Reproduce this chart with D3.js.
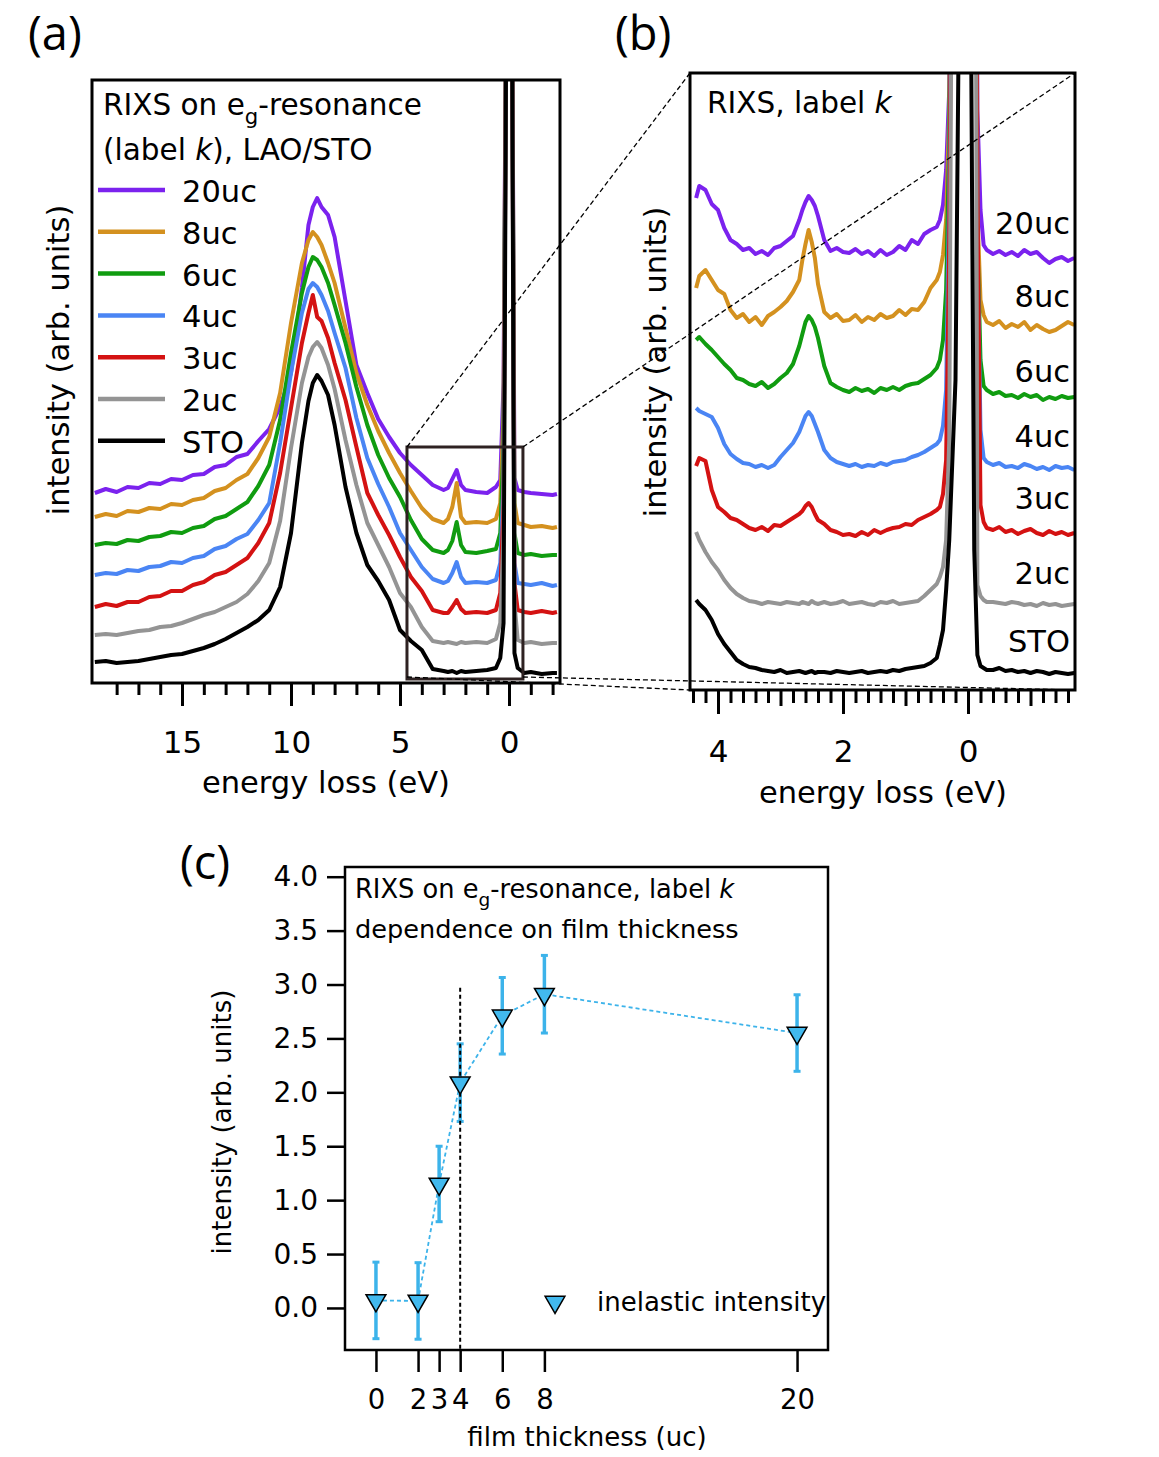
<!DOCTYPE html>
<html lang="en">
<head>
<meta charset="UTF-8">
<title>RIXS on eg-resonance, LAO/STO</title>
<script src="https://d3js.org/d3.v7.min.js"></script>
<style>
  body { margin: 0; background: #fff; }
  svg { display: block; font-family: 'DejaVu Sans', sans-serif; }
  .frame { fill: none; stroke: #000; }
  .panel-label { font-family: 'Open Sans', sans-serif; font-size: 47px; }
</style>
</head>
<body>
<svg id="fig" width="1159" height="1457"></svg>
<script>
// ---- panel (a): wide range spectra ----
const sampleNames = ['20uc', '8uc', '6uc', '4uc', '3uc', '2uc', 'STO'];
const sampleColors = ['#7b22ee', '#d4911f', '#109c10', '#4a85f4', '#d41212', '#949494', '#000000'];

const energyA = [19, 18.5, 18, 17.5, 17, 16.5, 16, 15.5, 15, 14.5, 14, 13.5, 13, 12.5, 12, 11.5, 11,
  10.5, 10, 9.5, 9.2, 9.0, 8.8, 8.6, 8.3, 8.0, 7.5, 7, 6.5, 6, 5.5, 5, 4.5, 4, 3.5, 3,
  2.8, 2.6, 2.4, 2.2, 2.0, 1.5, 1, 0.6, 0.4, 0.25, 0.1, 0, -0.1, -0.25, -0.4, -0.7, -1, -1.5, -2, -2.2];

const a20uc = [19.0, 19.4, 19.1, 19.6, 19.5, 20.0, 19.9, 20.4, 20.3, 20.8, 20.9, 21.6, 21.8, 22.6, 22.9, 24.2, 25.4,
  27.6, 31.0, 39.5, 45.8, 47.6, 48.5, 47.6, 46.8, 44.6, 38.2, 31.8, 29.0, 26.4, 24.6, 23.0, 21.8, 20.8, 19.8, 19.3,
  19.5, 20.4, 21.3, 19.8, 19.3, 19.1, 19.0, 19.6, 20.3, 30, 80, 150, 90, 20.5, 19.3, 19.1, 19.0, 18.9, 18.8, 18.9];
const a8uc = [16.6, 16.9, 16.7, 17.2, 17.1, 17.5, 17.4, 17.9, 17.8, 18.3, 18.5, 19.2, 19.5, 20.3, 20.9, 22.5, 24.6,
  29.0, 36.0, 42.0, 44.3, 45.1, 44.6, 43.8, 42.0, 40.0, 35.5, 31.0, 27.8, 25.2, 23.0, 21.0, 19.2, 17.5, 16.4, 16.0,
  16.4, 17.6, 20.0, 16.6, 16.0, 16.1, 16.0, 16.4, 18, 27, 80, 150, 90, 18, 16.0, 15.8, 15.6, 15.7, 15.5, 15.6];
const a6uc = [13.8, 14.0, 13.9, 14.3, 14.2, 14.6, 14.7, 15.1, 15.0, 15.5, 15.7, 16.4, 16.7, 17.4, 18.1, 19.7, 21.8,
  26.3, 33.0, 39.0, 41.6, 42.6, 42.3, 41.6, 40.0, 37.8, 34.0, 29.6, 25.8, 22.8, 20.5, 18.6, 16.3, 14.4, 13.3, 13.0,
  13.3, 14.2, 16.1, 13.8, 13.1, 13.0, 13.2, 13.4, 15, 24, 80, 150, 90, 15, 13.0, 12.8, 12.9, 12.7, 12.8, 12.8];
const a4uc = [10.8, 11.0, 10.9, 11.3, 11.2, 11.6, 11.7, 12.1, 12.0, 12.5, 12.7, 13.4, 13.7, 14.4, 14.9, 16.3, 18.0,
  24.0, 31.0, 37.0, 39.4, 40.0, 39.6, 38.8, 37.2, 35.0, 31.5, 26.5, 22.5, 19.9, 17.6, 15.0, 13.3, 11.6, 10.4, 10.0,
  10.2, 11.0, 12.1, 10.6, 10.0, 10.1, 10.0, 10.3, 12, 20, 80, 150, 90, 12, 10.0, 9.9, 9.8, 10.0, 9.7, 9.8];
const a3uc = [7.6, 7.9, 7.7, 8.1, 8.1, 8.6, 8.7, 9.2, 9.2, 9.8, 10.1, 10.8, 11.1, 11.8, 12.5, 14.0, 16.0,
  21.0, 27.5, 34.0, 37.0, 38.8, 36.6, 36.2, 34.5, 32.0, 28.3, 23.6, 19.0, 16.8, 14.8, 12.6, 10.6, 9.2, 7.3, 7.0,
  7.0, 7.6, 8.3, 7.4, 7.0, 7.1, 7.0, 7.3, 9, 18, 80, 150, 90, 10, 7.3, 7.1, 7.0, 7.2, 7.0, 7.1];
const a2uc = [4.8, 4.9, 4.8, 5.0, 5.2, 5.3, 5.6, 5.7, 6.0, 6.4, 6.8, 7.1, 7.6, 8.1, 8.9, 10.2, 12.0,
  16.2, 23.5, 30.0, 32.6, 33.6, 34.1, 33.5, 31.8, 29.4, 24.3, 19.8, 16.0, 13.8, 11.6, 9.0, 7.6, 5.6, 4.2, 4.0,
  4.1, 4.0, 3.9, 4.1, 4.0, 4.1, 4.0, 4.4, 6, 15, 80, 150, 90, 8, 4.3, 4.0, 4.1, 3.9, 4.0, 4.0];
const aSTO = [2.1, 2.2, 2.0, 2.1, 2.2, 2.4, 2.6, 2.8, 2.9, 3.2, 3.5, 3.9, 4.4, 5.0, 5.6, 6.3, 7.3,
  9.6, 15.0, 24.0, 28.2, 30.0, 30.8, 30.2, 28.8, 25.8, 19.6, 15.0, 11.8, 10.2, 8.3, 5.3, 4.2, 3.3, 1.4, 1.2,
  1.1, 1.2, 1.0, 1.2, 1.1, 1.2, 1.3, 1.5, 2.5, 6, 80, 150, 90, 3, 1.5, 1.0, 1.1, 0.9, 1.0, 1.0];

// ---- panel (b): zoom on the low energy region ----
const energyB = [4.35, 4.3, 4.2, 4.1, 4.0, 3.9, 3.8, 3.7, 3.6, 3.5, 3.4, 3.3, 3.2, 3.1, 3.0, 2.9, 2.8,
  2.7, 2.65, 2.6, 2.55, 2.5, 2.45, 2.4,
  2.3, 2.2, 2.1, 2.0, 1.9, 1.8, 1.7, 1.6, 1.5, 1.4, 1.3, 1.2, 1.1, 1.0, 0.9, 0.8, 0.7, 0.6, 0.5,
  0.45, 0.4, 0.35, 0.3, 0.25, 0.2, 0.15, 0.1, 0.05, 0, -0.05, -0.1, -0.15, -0.2, -0.25, -0.3,
  -0.4, -0.5, -0.6, -0.7, -0.8, -0.9, -1.0, -1.1, -1.2, -1.3, -1.4, -1.5, -1.6, -1.7];

const b20uc = [49.2, 50.4, 50.0, 48.6, 48.0, 46.2, 45.0, 44.6, 44.0, 44.2, 43.6, 43.9, 43.5, 44.2, 44.4, 44.9, 45.4,
  47.0, 48.0, 48.8, 49.4, 49.0, 48.4, 47.4,
  45.0, 43.9, 44.2, 43.8, 43.7, 44.1, 43.6, 43.9, 43.4, 44.0, 43.5, 43.8, 44.4, 44.0, 45.0, 44.6, 45.6, 46.0, 46.3,
  47.0, 48.5, 52, 60, 90, 200, 400, 600, 700, 600, 400, 150, 58, 48, 44.5, 44.0,
  43.6, 43.9, 43.5, 43.8, 43.4, 44.0, 43.6, 43.8, 43.2, 42.7, 43.1, 43.3, 42.9, 43.2];
const b8uc = [40.2, 41.4, 42.0, 41.0, 40.0, 39.6, 38.0, 37.2, 37.6, 36.8, 37.3, 36.5, 37.4, 37.8, 38.3, 38.9, 39.8,
  41.0, 43.0, 44.6, 46.0, 44.8, 43.2, 40.6,
  37.8, 37.2, 37.6, 36.9, 37.0, 37.5, 36.8, 37.3, 37.0, 37.6, 37.2, 37.4, 38.0, 37.5, 38.1, 38.0, 38.8, 40.2, 41.0,
  41.8, 43.5, 47, 58, 90, 200, 400, 600, 700, 600, 400, 150, 48, 39, 37.5, 36.8,
  36.5, 36.9, 36.2, 36.6, 36.3, 36.8, 36.0, 36.5, 36.1, 35.8, 36.0, 36.4, 36.8, 36.5];
const b6uc = [35.0, 35.3, 34.6, 34.0, 33.3, 32.6, 32.0, 31.2, 31.0, 30.6, 30.4, 30.8, 30.2, 30.6, 31.2, 31.7, 32.6,
  34.4, 35.6, 36.8, 37.4, 37.0, 36.3, 35.2,
  32.4, 30.7, 30.3, 30.0, 29.8, 30.2, 29.9, 30.1, 29.7, 30.2, 30.0, 30.3, 30.0, 30.4, 30.6, 30.7, 31.1, 31.5, 32.2,
  33.0, 35.0, 40, 55, 90, 200, 400, 600, 700, 600, 400, 150, 45, 33, 30.4, 30.0,
  29.6, 29.8, 29.4, 29.5, 29.2, 29.6, 29.3, 29.5, 29.0, 29.3, 29.1, 29.4, 29.2, 29.3];
const b4uc = [28.2, 27.9, 27.6, 27.3, 26.2, 24.6, 23.6, 23.1, 22.7, 22.6, 22.3, 22.5, 22.2, 22.5, 23.3, 24.0, 24.7,
  25.8, 26.6, 27.4, 27.8, 27.4, 26.6, 25.8,
  24.0, 23.2, 22.8, 22.6, 22.4, 22.6, 22.3, 22.5, 22.4, 22.7, 22.5, 22.8, 22.9, 23.0, 23.3, 23.5, 23.8, 24.2, 24.6,
  25.0, 26.4, 30, 50, 90, 200, 400, 600, 700, 600, 400, 150, 45, 26, 23.2, 22.8,
  22.5, 22.7, 22.3, 22.4, 22.2, 22.6, 22.4, 22.1, 22.3, 22.0, 22.4, 22.2, 22.3, 22.0];
const b3uc = [22.4, 23.2, 22.9, 20.0, 18.3, 17.8, 17.2, 17.0, 16.6, 16.2, 16.0, 16.3, 15.9, 16.5, 16.4, 16.8, 17.2,
  17.6, 17.9, 18.4, 18.7, 18.3, 17.6, 17.0,
  16.6, 16.0, 15.8, 15.5, 15.6, 15.4, 15.8, 15.5, 16.0, 15.7, 16.0, 16.2, 16.3, 16.6, 16.5, 17.0, 17.3, 17.6, 18.0,
  18.3, 19.6, 23, 45, 90, 200, 400, 600, 700, 600, 400, 150, 50, 18.5, 16.8, 16.2,
  16.0, 16.3, 15.8, 16.0, 15.6, 15.9, 16.1, 15.7, 15.5, 15.9, 15.6, 15.8, 15.5, 15.7];
const b2uc = [15.8, 15.0, 13.8, 12.8, 12.0, 11.0, 10.2, 9.6, 9.2, 8.9, 8.8, 8.6, 8.8, 8.7, 8.6, 8.8, 8.7,
  8.6, 8.8, 8.7, 8.6, 8.9, 8.7, 8.6,
  8.8, 8.6, 8.7, 8.9, 8.6, 8.7, 8.8, 8.6, 8.5, 8.8, 8.7, 8.9, 8.6, 8.7, 8.8, 8.9, 9.4, 10.0, 10.6,
  11.3, 12.3, 15.0, 25, 90, 200, 400, 600, 700, 600, 400, 150, 10.5, 9.4, 9.0, 8.8,
  8.8, 8.7, 8.6, 8.8, 8.7, 8.5, 8.6, 8.4, 8.7, 8.5, 8.6, 8.4, 8.5, 8.6];
const bSTO = [9.0, 8.6, 8.0, 7.0, 5.6, 4.6, 3.8, 3.0, 2.6, 2.3, 2.2, 2.0, 1.9, 1.8, 2.0, 1.7, 1.8,
  1.9, 1.8, 1.7, 1.8, 1.9, 1.7, 1.8,
  1.8, 1.7, 1.9, 1.8, 1.7, 1.8, 1.9, 1.7, 1.8, 1.9, 1.8, 2.0, 1.9, 2.1, 2.2, 2.3, 2.4, 2.7, 3.2,
  4.5, 6.0, 10, 15, 23, 31, 65, 300, 500, 300, 65, 14, 3.5, 2.4, 2.2, 2.0,
  2.0, 2.2, 1.9, 2.0, 1.8, 1.9, 1.7, 1.9, 1.8, 1.6, 1.8, 1.7, 1.6, 1.7];

// region of (a) that is blown up in (b)
const zoomBoxE = [4.68, -0.64];
const zoomBoxI = [0.4, 23.6];

// ---- panel (c): inelastic intensity vs thickness ----
const thickness = [0, 2, 3, 4, 6, 8, 20];
const inelastic = [0.07, 0.065, 1.15, 2.09, 2.71, 2.91, 2.55];
const inelasticErr = [0.355, 0.355, 0.35, 0.36, 0.355, 0.36, 0.355];
const thicknessTicks = [0, 2, 3, 4, 6, 8, 20];
const intensityTicks = [0, 0.5, 1.0, 1.5, 2.0, 2.5, 3.0, 3.5, 4.0];
const criticalThickness = 4;
const criticalTop = 2.97;

const seriesA = [a20uc, a8uc, a6uc, a4uc, a3uc, a2uc, aSTO];
const seriesB = [b20uc, b8uc, b6uc, b4uc, b3uc, b2uc, bSTO];
seriesA.forEach((s, i) => { if (s.length !== energyA.length) console.warn('A', sampleNames[i], s.length); });
seriesB.forEach((s, i) => { if (s.length !== energyB.length) console.warn('B', sampleNames[i], s.length); });

const svg = d3.select('#fig');
const defs = svg.append('defs');

// writes "RIXS on e_g-resonance..." style text with subscript / italic parts
function richText(g, x, y, size, parts) {
  const t = g.append('text').attr('x', x).attr('y', y).attr('font-size', size);
  parts.forEach(p => {
    const ts = t.append('tspan').text(p.t);
    if (p.sub) ts.attr('dy', size * 0.3).attr('font-size', size * 0.72);
    if (p.after) ts.attr('dy', -size * 0.3);
    if (p.it) ts.attr('font-style', 'italic');
  });
  return t;
}

function drawSpectra(g, energies, series, x, y, clipId) {
  const [x0, x1] = x.range();
  const [y1, y0] = y.range();
  defs.append('clipPath').attr('id', clipId)
    .append('rect').attr('x', x0).attr('y', y0).attr('width', x1 - x0).attr('height', y1 - y0);
  const line = d3.line().x(d => x(d[0])).y(d => y(d[1]));
  g.append('g').attr('clip-path', `url(#${clipId})`)
    .selectAll('path')
    .data(series)
    .enter().append('path')
    .attr('d', s => line(energies.map((e, i) => [e, s[i]])))
    .attr('fill', 'none')
    .attr('stroke', (s, i) => sampleColors[i])
    .attr('stroke-width', 4)
    .attr('stroke-linejoin', 'round');
  g.append('rect').attr('class', 'frame')
    .attr('x', x0).attr('y', y0).attr('width', x1 - x0).attr('height', y1 - y0)
    .attr('stroke-width', 3);
}

function styleAxis(ax, width, size) {
  ax.select('.domain').remove();
  ax.selectAll('line').attr('stroke', '#000').attr('stroke-width', width);
  ax.selectAll('text').attr('font-size', size).attr('fill', '#000')
    .attr('font-family', "'DejaVu Sans', sans-serif");
}

function yTitle(x, y, size) {
  svg.append('text')
    .attr('transform', `translate(${x},${y}) rotate(-90)`)
    .attr('text-anchor', 'middle')
    .attr('dominant-baseline', 'central')
    .attr('font-size', size)
    .text('intensity (arb. units)');
}

// ================= panel (a) =================
const xA = d3.scaleLinear().domain([19.13, -2.34]).range([92, 560]);
const yA = d3.scaleLinear().domain([0, 60.3]).range([683, 80]);
const gA = svg.append('g');
drawSpectra(gA, energyA, seriesA, xA, yA, 'clipA');

const majorA = [15, 10, 5, 0];
const minorA = d3.range(-2, 19).filter(v => !majorA.includes(v));
styleAxis(gA.append('g').attr('transform', 'translate(0,683)')
  .call(d3.axisBottom(xA).tickValues(minorA).tickSize(12).tickFormat('')), 3, 30);
styleAxis(gA.append('g').attr('transform', 'translate(0,683)')
  .call(d3.axisBottom(xA).tickValues(majorA).tickSize(23).tickPadding(25).tickFormat(d3.format('d'))), 3, 31);
gA.append('text').attr('x', 326).attr('y', 793).attr('text-anchor', 'middle')
  .attr('font-size', 30.5).text('energy loss (eV)');
yTitle(58, 360, 30.5);

richText(gA, 103, 115, 29.5, [{ t: 'RIXS on e' }, { t: 'g', sub: true }, { t: '-resonance', after: true }]);
richText(gA, 103, 160, 29.5, [{ t: '(label ' }, { t: 'k', it: true }, { t: '), LAO/STO' }]);

const legendA = gA.append('g').selectAll('g')
  .data(sampleNames)
  .enter().append('g')
  .attr('transform', (d, i) => `translate(0,${190 + i * 41.8})`);
legendA.append('line').attr('x1', 98).attr('x2', 165)
  .attr('stroke', (d, i) => sampleColors[i]).attr('stroke-width', 4.5);
legendA.append('text').attr('x', 182).attr('y', 12).attr('font-size', 30.5).text(d => d);

// box marking the region shown in (b)
const boxX0 = xA(zoomBoxE[0]), boxX1 = xA(zoomBoxE[1]);
const boxY0 = yA(zoomBoxI[1]), boxY1 = yA(zoomBoxI[0]);
gA.append('rect').attr('x', boxX0).attr('y', boxY0)
  .attr('width', boxX1 - boxX0).attr('height', boxY1 - boxY0)
  .attr('fill', 'none').attr('stroke', '#2e2222').attr('stroke-width', 3);

// ================= panel (b) =================
const xB = d3.scaleLinear().domain([4.448, -1.712]).range([690, 1075]);
const yB = d3.scaleLinear().domain([0, 61.7]).range([690, 73]);
const gB = svg.append('g');
drawSpectra(gB, energyB, seriesB, xB, yB, 'clipB');

const majorB = [4, 2, 0];
const midB = [3, 1, -1];
const minorB = d3.range(-8, 23).map(i => +(i * 0.2).toFixed(1))
  .filter(v => !majorB.includes(v) && !midB.includes(v));
styleAxis(gB.append('g').attr('transform', 'translate(0,690)')
  .call(d3.axisBottom(xB).tickValues(minorB).tickSize(13).tickFormat('')), 3, 30);
styleAxis(gB.append('g').attr('transform', 'translate(0,690)')
  .call(d3.axisBottom(xB).tickValues(midB).tickSize(16).tickFormat('')), 3, 30);
styleAxis(gB.append('g').attr('transform', 'translate(0,690)')
  .call(d3.axisBottom(xB).tickValues(majorB).tickSize(24).tickPadding(26).tickFormat(d3.format('d'))), 3, 31);
gB.append('text').attr('x', 883).attr('y', 803).attr('text-anchor', 'middle')
  .attr('font-size', 30.5).text('energy loss (eV)');
yTitle(655, 362, 30.5);

richText(gB, 707, 113, 29.5, [{ t: 'RIXS, label ' }, { t: 'k', it: true }]);

const labelYB = [223, 296, 371, 436, 498, 573, 641];
gB.append('g').selectAll('text')
  .data(sampleNames)
  .enter().append('text')
  .attr('x', 1070).attr('y', (d, i) => labelYB[i] + 11)
  .attr('text-anchor', 'end').attr('font-size', 30.5)
  .text(d => d);

// ================= panel (c) =================
const xC = d3.scaleLinear().domain([-1.47, 21.47]).range([345, 828]);
const yC = d3.scaleLinear().domain([-0.39, 4.09]).range([1350, 867]);
const gC = svg.append('g');
gC.append('rect').attr('class', 'frame')
  .attr('x', 345).attr('y', 867).attr('width', 483).attr('height', 483)
  .attr('stroke-width', 2.5);

styleAxis(gC.append('g').attr('transform', 'translate(345,0)')
  .call(d3.axisLeft(yC).tickValues(intensityTicks).tickSize(18).tickPadding(9).tickFormat(d3.format('.1f'))), 2.5, 28);
styleAxis(gC.append('g').attr('transform', 'translate(0,1350)')
  .call(d3.axisBottom(xC).tickValues(thicknessTicks).tickSize(22).tickPadding(17).tickFormat(d3.format('d'))), 2.5, 27.5);
gC.append('text').attr('x', 587).attr('y', 1446).attr('text-anchor', 'middle')
  .attr('font-size', 26).text('film thickness (uc)');
yTitle(222, 1122, 26);

richText(gC, 355, 898, 25.7, [{ t: 'RIXS on e' }, { t: 'g', sub: true }, { t: '-resonance, label ', after: true }, { t: 'k', it: true }]);
gC.append('text').attr('x', 355).attr('y', 938).attr('font-size', 25.6).text('dependence on film thickness');

const points = thickness.map((t, i) => ({ t, v: inelastic[i], e: inelasticErr[i] }));
const blue = '#3cb3ea';

gC.append('path')
  .attr('d', d3.line().x(d => xC(d.t)).y(d => yC(d.v))(points))
  .attr('fill', 'none').attr('stroke', blue).attr('stroke-width', 1.8)
  .attr('stroke-dasharray', '4,3');

const bars = gC.append('g').selectAll('g').data(points).enter().append('g');
bars.append('line')
  .attr('x1', d => xC(d.t)).attr('x2', d => xC(d.t))
  .attr('y1', d => yC(d.v - d.e)).attr('y2', d => yC(d.v + d.e))
  .attr('stroke', blue).attr('stroke-width', 3.5);
[-1, 1].forEach(s => {
  bars.append('line')
    .attr('x1', d => xC(d.t) - 3.5).attr('x2', d => xC(d.t) + 3.5)
    .attr('y1', d => yC(d.v + s * d.e)).attr('y2', d => yC(d.v + s * d.e))
    .attr('stroke', blue).attr('stroke-width', 3);
});

gC.append('line')
  .attr('x1', xC(criticalThickness)).attr('x2', xC(criticalThickness))
  .attr('y1', yC(criticalTop)).attr('y2', 1349)
  .attr('stroke', '#000').attr('stroke-width', 2).attr('stroke-dasharray', '4,3');

const tri = d3.symbol().type(d3.symbolTriangle).size(170);
gC.append('g').selectAll('path').data(points).enter().append('path')
  .attr('d', tri)
  .attr('transform', d => `translate(${xC(d.t)},${yC(d.v)}) rotate(180)`)
  .attr('fill', '#42b9ee').attr('stroke', '#000').attr('stroke-width', 1.5);

gC.append('path').attr('d', tri)
  .attr('transform', 'translate(555,1302) rotate(180)')
  .attr('fill', '#42b9ee').attr('stroke', '#000').attr('stroke-width', 1.5);
gC.append('text').attr('x', 597).attr('y', 1311).attr('font-size', 26).text('inelastic intensity');

// ================= connecting dashed lines (a) -> (b) =================
const [bx0, bx1] = xB.range();
const [by1, by0] = yB.range();
const links = [
  [boxX0, boxY0, bx0, by0],
  [boxX1, boxY0, bx1, by0],
  [boxX1, boxY1 - 2, bx1, by1],
  [boxX0, boxY1 - 2, bx0, by1]
];
svg.append('g').selectAll('line').data(links).enter().append('line')
  .attr('x1', d => d[0]).attr('y1', d => d[1]).attr('x2', d => d[2]).attr('y2', d => d[3])
  .attr('stroke', '#000').attr('stroke-width', 1.3).attr('stroke-dasharray', '5,3');

// panel letters
svg.append('text').attr('class', 'panel-label').attr('x', 28).attr('y', 50).text('(a)');
svg.append('text').attr('class', 'panel-label').attr('x', 615).attr('y', 50).text('(b)');
svg.append('text').attr('class', 'panel-label').attr('x', 180).attr('y', 879).text('(c)');
</script>
</body>
</html>
